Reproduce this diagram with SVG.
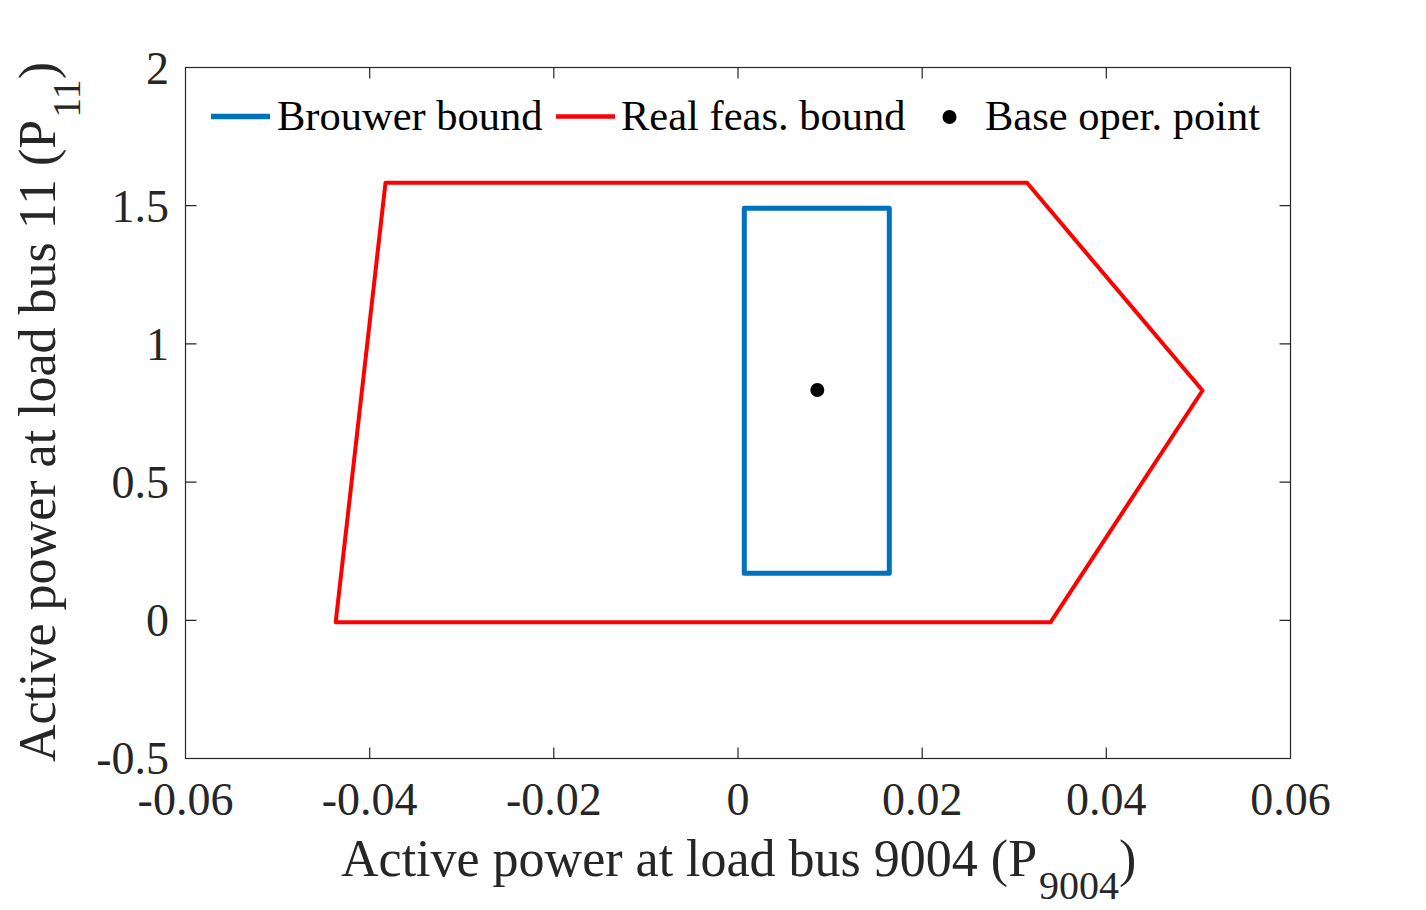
<svg xmlns="http://www.w3.org/2000/svg" width="1426" height="910" viewBox="0 0 1426 910">
<style>
text{font-family:"Liberation Serif","Times New Roman",serif;fill:#262626}
.tick{font-size:46px}
.lab{font-size:52px}
.leg{font-size:42.5px;fill:#000}
.ax{stroke:#262626;stroke-width:1.2;fill:none}
</style>
<rect width="1426" height="910" fill="#fff"/>
<g id="axes">
<rect class="ax" x="185.5" y="67.5" width="1105" height="691"/>
<path class="ax" d="M369.7 758.5v-11M553.8 758.5v-11M738 758.5v-11M922.2 758.5v-11M1106.3 758.5v-11
M369.7 67.5v11M553.8 67.5v11M738 67.5v11M922.2 67.5v11M1106.3 67.5v11
M185.5 205.7h11M185.5 343.9h11M185.5 482.1h11M185.5 620.3h11
M1290.5 205.7h-11M1290.5 343.9h-11M1290.5 482.1h-11M1290.5 620.3h-11"/>
</g>
<g id="xticklabels" class="tick" text-anchor="middle">
<text x="185.5" y="815">-0.06</text>
<text x="369.7" y="815">-0.04</text>
<text x="553.8" y="815">-0.02</text>
<text x="738" y="815">0</text>
<text x="922.2" y="815">0.02</text>
<text x="1106.3" y="815">0.04</text>
<text x="1290.5" y="815">0.06</text>
</g>
<g id="yticklabels" class="tick" text-anchor="end">
<text x="169" y="84">2</text>
<text x="169" y="222">1.5</text>
<text x="169" y="360">1</text>
<text x="169" y="498">0.5</text>
<text x="169" y="636">0</text>
<text x="169" y="774">-0.5</text>
</g>
<g id="xlabel"><text class="lab" x="341" y="876">Active power at load bus 9004 (P<tspan font-size="40" dx="2" dy="23">9004</tspan><tspan dy="-23">)</tspan></text></g>
<g id="ylabel"><text class="lab" transform="translate(55,762) rotate(-90)">Active power at load bus 11 (P<tspan font-size="40" dx="2" dy="25">11</tspan><tspan dy="-25">)</tspan></text></g>
<g id="series">
<polygon id="real-feas-bound" points="335.7,622.3 385.5,182.8 1027,182.8 1202.5,390.5 1050.5,622.3" fill="none" stroke="#FF0000" stroke-width="4" stroke-linejoin="round"/>
<rect id="brouwer-bound" x="744.3" y="208.3" width="145" height="365" fill="none" stroke="#0072BD" stroke-width="5" stroke-linejoin="round"/>
<circle id="base-point" cx="817.3" cy="390" r="7" fill="#000"/>
</g>
<g id="legend">
<line x1="211" y1="116.5" x2="270" y2="116.5" stroke="#0072BD" stroke-width="5.5"/>
<text class="leg" x="277" y="130">Brouwer bound</text>
<line x1="556" y1="116.5" x2="615" y2="116.5" stroke="#FF0000" stroke-width="4.5"/>
<text class="leg" x="621" y="130">Real feas. bound</text>
<circle cx="949.5" cy="117" r="7" fill="#000"/>
<text class="leg" x="985" y="130">Base oper. point</text>
</g>
</svg>
